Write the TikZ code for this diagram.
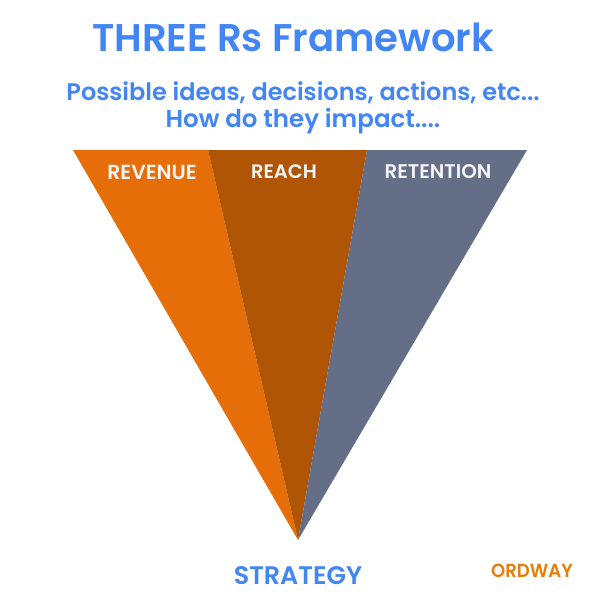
\documentclass[tikz,border=0pt]{standalone}
\usepackage{fontspec}
\setmainfont{Poppins}[BoldFont={Poppins SemiBold}]
\definecolor{titleblue}{HTML}{4285F4}
\definecolor{orangeA}{HTML}{E66E09}
\definecolor{orangeB}{HTML}{B05505}
\definecolor{slateC}{HTML}{646E87}
\begin{document}
\begin{tikzpicture}[x=1pt,y=-1pt,
  headtext/.style={text=titleblue,font=\fontsize{#1}{#1}\selectfont\bfseries,inner sep=0pt,anchor=center},
  bandtext/.style={text=white!92!slateC,font=\fontsize{#1}{#1}\selectfont\bfseries,inner sep=0pt,anchor=center}]
\useasboundingbox (0,0) rectangle (600,600);
\fill[white] (0,0) rectangle (600,600);
\coordinate (apex) at (298,540);
\fill[orangeA] (73,150) -- (208,150) -- (apex) -- cycle;
\fill[orangeB] (208,150) -- (367,150) -- (apex) -- cycle;
\fill[slateC] (367,150) -- (527,150) -- (apex) -- cycle;
\node[headtext=38.6] (title) at (293,37) {THREE Rs Framework};
\node[headtext=24] (sub1) at (303,93) {Possible ideas, decisions, actions, etc...};
\node[headtext=24.5] (sub2) at (303,121) {How do they impact....};
\node[bandtext=20.4] (rev) at (152,172) {REVENUE};
\node[bandtext=19.5] (rea) at (284,172) {REACH};
\node[bandtext=19.8] (ret) at (438,172) {RETENTION};
\node[headtext=25.4] (strategy) at (298,576) {STRATEGY};
\node[text=orangeA!90!yellow,font=\fontsize{19}{19}\selectfont\bfseries,inner sep=0pt,xscale=0.95] (logo) at (532,571) {ORDWAY};
\end{tikzpicture}
\end{document}
